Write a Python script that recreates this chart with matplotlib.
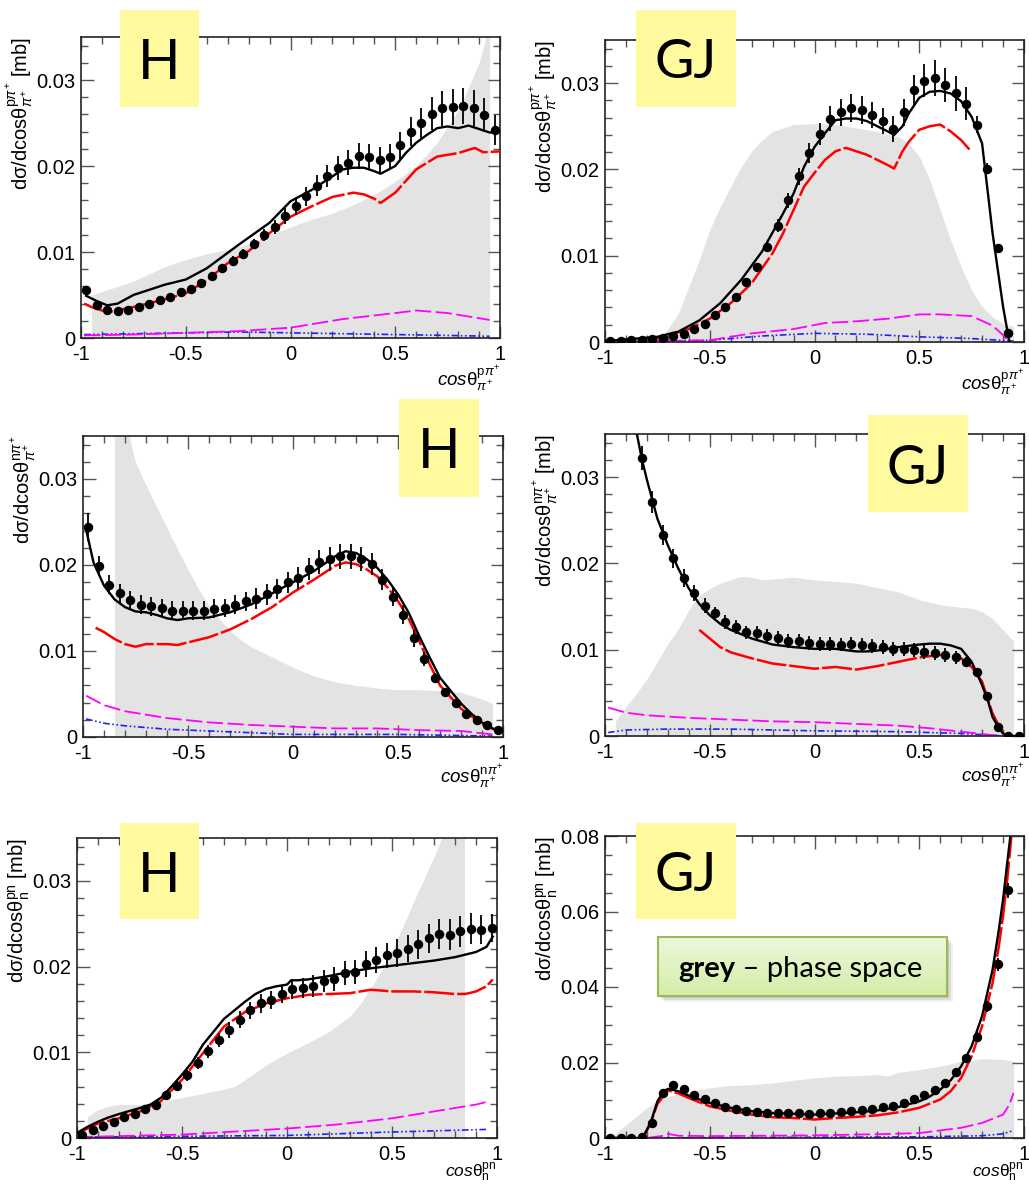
import numpy as np
import matplotlib
matplotlib.use("Agg")
import matplotlib.pyplot as plt
from matplotlib.patches import Rectangle
from matplotlib.ticker import MultipleLocator, FixedLocator, FixedFormatter

plt.rcParams['font.family'] = ['Liberation Sans', 'DejaVu Sans']
plt.rcParams['mathtext.fontset'] = 'custom'
plt.rcParams['mathtext.rm'] = 'Liberation Sans'
plt.rcParams['mathtext.it'] = 'Liberation Sans:italic'
plt.rcParams['mathtext.bf'] = 'Liberation Sans:bold'

W, H = 1029, 1185

# 40 bins of width 0.05 in cos(theta)
BIN_CENTERS = np.round(np.arange(-0.975, 1.0, 0.05), 3)

X_TICKS = [-1, -0.5, 0, 0.5, 1]
X_TICK_LABELS = ['-1', '-0.5', '0', '0.5', '1']
Y_TICKS_SMALL = [0, 0.01, 0.02, 0.03]
Y_TICK_LABELS_SMALL = ['0', '0.01', '0.02', '0.03']
Y_TICKS_BIG = [0, 0.02, 0.04, 0.06, 0.08]
Y_TICK_LABELS_BIG = ['0', '0.02', '0.04', '0.06', '0.08']

# ---------------- p pi+ system, Helicity frame ----------------
h_ppi_data = [0.0056, 0.0038, 0.0032, 0.0031, 0.0033, 0.0036, 0.0040, 0.0044, 0.0048, 0.0053,
              0.0057, 0.0064, 0.0072, 0.0081, 0.0090, 0.0098, 0.0109, 0.0120, 0.0129, 0.0142,
              0.0153, 0.0165, 0.0177, 0.0188, 0.0198, 0.0204, 0.0212, 0.0210, 0.0207, 0.0211,
              0.0224, 0.0240, 0.0250, 0.0261, 0.0267, 0.0269, 0.0270, 0.0267, 0.0259, 0.0242]
h_ppi_err = [0.0003, 0.0003, 0.0003, 0.0003, 0.0003, 0.0003, 0.0003, 0.0003, 0.0003, 0.0003,
             0.0004, 0.0004, 0.0004, 0.0005, 0.0005, 0.0005, 0.0006, 0.0007, 0.0008, 0.0009,
             0.0010, 0.0011, 0.0012, 0.0013, 0.0014, 0.0015, 0.0015, 0.0015, 0.0015, 0.0015,
             0.0016, 0.0017, 0.0018, 0.0019, 0.0020, 0.0021, 0.0021, 0.0021, 0.0020, 0.0017]
h_ppi_full_x = [-0.975, -0.925, -0.875, -0.825, -0.75, -0.6, -0.5, -0.4, -0.25, -0.1, 0, 0.1, 0.2,
                0.25, 0.3, 0.35, 0.4, 0.43, 0.5, 0.55, 0.6, 0.65, 0.7, 0.75, 0.8, 0.85, 0.9, 0.95, 0.975]
h_ppi_full_y = [0.0049, 0.0043, 0.0038, 0.0040, 0.0050, 0.0062, 0.0068, 0.0081, 0.0108, 0.0134,
                0.0159, 0.0172, 0.0188, 0.0196, 0.0198, 0.0198, 0.0194, 0.0191, 0.0200, 0.0215,
                0.0227, 0.0236, 0.0244, 0.0246, 0.0244, 0.0247, 0.0243, 0.0239, 0.0239]
h_ppi_red_x = [-0.985, -0.95, -0.9, -0.85, -0.75, -0.6, -0.5, -0.4, -0.3, -0.2, -0.1, 0, 0.1, 0.2,
               0.3, 0.35, 0.4, 0.43, 0.5, 0.6, 0.7, 0.8, 0.88, 0.92, 1.0]
h_ppi_red_y = [0.0040, 0.0036, 0.0032, 0.0031, 0.0036, 0.0045, 0.0052, 0.0067, 0.0087, 0.0101,
               0.0122, 0.0141, 0.0153, 0.0164, 0.0169, 0.0167, 0.0162, 0.0157, 0.0169, 0.0196,
               0.0211, 0.0215, 0.0221, 0.0216, 0.0217]
h_ppi_mag_x = [-0.985, -0.75, -0.5, -0.25, 0, 0.25, 0.5, 0.6, 0.75, 0.95]
h_ppi_mag_y = [0.0003, 0.0004, 0.0006, 0.0008, 0.0012, 0.0022, 0.0029, 0.0032, 0.0029, 0.0021]
h_ppi_blue_x = [-0.985, -0.5, -0.25, 0, 0.25, 0.5, 0.75, 0.95]
h_ppi_blue_y = [0.0004, 0.0006, 0.0007, 0.0006, 0.0005, 0.0004, 0.0003, 0.0002]
h_ppi_ps_x = [-0.95, -0.95, -0.85, -0.75, -0.6, -0.5, -0.4, -0.3, -0.2, -0.1, 0, 0.1, 0.2, 0.3,
              0.4, 0.5, 0.6, 0.7, 0.8, 0.85, 0.9, 0.95, 0.95]
h_ppi_ps_y = [0, 0.0050, 0.0058, 0.0066, 0.0083, 0.0091, 0.0098, 0.0103, 0.0109, 0.0120, 0.0129,
              0.0138, 0.0145, 0.0155, 0.0167, 0.0182, 0.0200, 0.0227, 0.0265, 0.0291, 0.0320,
              0.0365, 0]

# ---------------- p pi+ system, Gottfried-Jackson frame ----------------
gj_ppi_data = [0.0001, 0.0001, 0.0002, 0.0002, 0.0004, 0.0005, 0.0007, 0.0009, 0.0015, 0.0021,
               0.0031, 0.0040, 0.0052, 0.0069, 0.0087, 0.0110, 0.0135, 0.0164, 0.0192, 0.0219,
               0.0241, 0.0259, 0.0266, 0.0271, 0.0269, 0.0263, 0.0256, 0.0247, 0.0266, 0.0292,
               0.0303, 0.0306, 0.0298, 0.0288, 0.0276, 0.0252, 0.0201, 0.0109, 0.0010]
gj_ppi_err = [0.0002, 0.0002, 0.0002, 0.0002, 0.0002, 0.0002, 0.0002, 0.0002, 0.0002, 0.0003,
              0.0003, 0.0003, 0.0004, 0.0004, 0.0005, 0.0006, 0.0008, 0.0009, 0.0010, 0.0012,
              0.0013, 0.0015, 0.0016, 0.0016, 0.0016, 0.0015, 0.0015, 0.0015, 0.0016, 0.0017,
              0.0019, 0.0021, 0.0020, 0.0020, 0.0019, 0.0010, 0.0006, 0.0004, 0.0002]
gj_ppi_full_x = [-1.0, -0.75, -0.65, -0.55, -0.45, -0.35, -0.25, -0.15, -0.1, -0.05, 0, 0.05, 0.1,
                 0.15, 0.2, 0.25, 0.3, 0.35, 0.38, 0.42, 0.45, 0.5, 0.55, 0.6, 0.65, 0.7, 0.75,
                 0.8, 0.85, 0.9, 0.93]
gj_ppi_full_y = [0.0001, 0.0006, 0.0012, 0.0025, 0.0045, 0.0072, 0.0105, 0.0149, 0.0172, 0.0203,
                 0.0226, 0.0242, 0.0257, 0.0259, 0.0259, 0.0256, 0.0250, 0.0244, 0.0240, 0.0250,
                 0.0265, 0.0283, 0.0290, 0.0291, 0.0288, 0.0279, 0.0261, 0.0230, 0.0126, 0.0041, 0.0]
gj_ppi_red_x = [-1.0, -0.75, -0.6, -0.5, -0.4, -0.3, -0.2, -0.15, -0.1, -0.05, 0, 0.05, 0.1, 0.15,
                0.2, 0.25, 0.3, 0.35, 0.38, 0.42, 0.45, 0.5, 0.55, 0.6, 0.65, 0.7, 0.74]
gj_ppi_red_y = [0.0, 0.0004, 0.0015, 0.0027, 0.0045, 0.0068, 0.0103, 0.0126, 0.0153, 0.0180, 0.0196,
                0.0211, 0.0221, 0.0225, 0.0221, 0.0217, 0.0211, 0.0205, 0.0201, 0.0221, 0.0232,
                0.0246, 0.0250, 0.0252, 0.0244, 0.0234, 0.0223]
gj_ppi_mag_x = [-1.0, -0.5, -0.3, -0.1, 0.05, 0.2, 0.35, 0.5, 0.6, 0.75, 0.85, 0.9, 0.93]
gj_ppi_mag_y = [0.0, 0.0002, 0.0010, 0.0015, 0.0022, 0.0024, 0.0027, 0.0032, 0.0032, 0.0030,
                0.0019, 0.0008, 0.0]
gj_ppi_blue_x = [-1.0, -0.5, -0.25, 0, 0.25, 0.5, 0.75, 0.95]
gj_ppi_blue_y = [0.0, 0.0002, 0.0007, 0.0010, 0.0009, 0.0006, 0.0004, 0.0001]
gj_ppi_ps_x = [-0.95, -0.8, -0.73, -0.7, -0.65, -0.6, -0.55, -0.5, -0.45, -0.4, -0.35, -0.3,
               -0.25, -0.2, -0.1, 0, 0.1, 0.2, 0.3, 0.4, 0.45, 0.5, 0.55, 0.6, 0.65, 0.7, 0.75,
               0.8, 0.85, 0.9, 0.95, 0.95]
gj_ppi_ps_y = [0, 0.0002, 0.0006, 0.0015, 0.0033, 0.0064, 0.0095, 0.0130, 0.0157, 0.0180, 0.0203,
               0.0221, 0.0234, 0.0244, 0.0252, 0.0253, 0.0252, 0.0248, 0.0244, 0.0238, 0.0230,
               0.0215, 0.0188, 0.0153, 0.0118, 0.0087, 0.0060, 0.0041, 0.0029, 0.0021, 0.0018, 0]

# ---------------- n pi+ system, Helicity frame ----------------
h_npi_data = [0.0244, 0.0199, 0.0177, 0.0167, 0.0159, 0.0154, 0.0152, 0.0150, 0.0147, 0.0147,
              0.0147, 0.0147, 0.0149, 0.0150, 0.0154, 0.0158, 0.0161, 0.0166, 0.0172, 0.0180,
              0.0185, 0.0195, 0.0203, 0.0207, 0.0210, 0.0210, 0.0207, 0.0201, 0.0183, 0.0163,
              0.0142, 0.0115, 0.0091, 0.0069, 0.0052, 0.0039, 0.0027, 0.0020, 0.0014, 0.0008]
h_npi_err = [0.0016, 0.0012, 0.0011, 0.0011, 0.0011, 0.0011, 0.0011, 0.0011, 0.0011, 0.0011,
             0.0011, 0.0011, 0.0011, 0.0011, 0.0011, 0.0011, 0.0012, 0.0012, 0.0012, 0.0012,
             0.0013, 0.0013, 0.0014, 0.0014, 0.0015, 0.0015, 0.0014, 0.0013, 0.0012, 0.0011,
             0.0011, 0.0010, 0.0008, 0.0006, 0.0005, 0.0004, 0.0004, 0.0003, 0.0003, 0.0003]
h_npi_full_x = [-0.985, -0.95, -0.9, -0.85, -0.8, -0.75, -0.7, -0.65, -0.6, -0.55, -0.5, -0.4,
                -0.3, -0.2, -0.1, 0, 0.1, 0.2, 0.25, 0.3, 0.35, 0.4, 0.45, 0.5, 0.55, 0.6, 0.65,
                0.7, 0.75, 0.8, 0.85, 0.9, 0.95, 0.975]
h_npi_full_y = [0.0241, 0.0203, 0.0176, 0.0160, 0.0151, 0.0146, 0.0145, 0.0142, 0.0138, 0.0136,
                0.0138, 0.0139, 0.0145, 0.0154, 0.0167, 0.0180, 0.0193, 0.0210, 0.0216, 0.0214,
                0.0207, 0.0197, 0.0183, 0.0166, 0.0145, 0.0118, 0.0093, 0.0069, 0.0054, 0.0039,
                0.0027, 0.0017, 0.0010, 0.0008]
h_npi_red_x = [-0.94, -0.9, -0.85, -0.8, -0.75, -0.7, -0.6, -0.55, -0.5, -0.4, -0.3, -0.2, -0.1,
               0, 0.1, 0.2, 0.25, 0.3, 0.35, 0.4, 0.45, 0.5, 0.55, 0.6, 0.65, 0.7, 0.8, 0.9, 0.975]
h_npi_red_y = [0.0127, 0.0122, 0.0114, 0.0108, 0.0105, 0.0108, 0.0108, 0.0107, 0.0110, 0.0116,
               0.0125, 0.0137, 0.0151, 0.0168, 0.0183, 0.0199, 0.0203, 0.0201, 0.0195, 0.0187,
               0.0174, 0.0158, 0.0138, 0.0112, 0.0085, 0.0060, 0.0033, 0.0015, 0.0007]
h_npi_mag_x = [-0.985, -0.9, -0.8, -0.6, -0.4, -0.2, 0, 0.2, 0.4, 0.6, 0.8, 0.95]
h_npi_mag_y = [0.0048, 0.0037, 0.0030, 0.0022, 0.0017, 0.0014, 0.0012, 0.0010, 0.0010, 0.0008,
               0.0007, 0.0003]
h_npi_blue_x = [-0.985, -0.9, -0.8, -0.6, -0.4, -0.2, 0, 0.5, 0.95]
h_npi_blue_y = [0.0021, 0.0016, 0.0013, 0.0009, 0.0007, 0.0005, 0.0003, 0.0003, 0.0001]
h_npi_ps_x = [-0.85, -0.85, -0.78, -0.75, -0.7, -0.65, -0.6, -0.55, -0.5, -0.45, -0.4, -0.35,
              -0.3, -0.25, -0.2, -0.1, 0, 0.1, 0.2, 0.3, 0.4, 0.5, 0.6, 0.7, 0.8, 0.85, 0.9,
              0.95, 0.95]
h_npi_ps_y = [0, 0.0400, 0.0350, 0.0319, 0.0293, 0.0268, 0.0243, 0.0218, 0.0195, 0.0172, 0.0153,
              0.0137, 0.0124, 0.0113, 0.0105, 0.0093, 0.0081, 0.0071, 0.0064, 0.0060, 0.0057,
              0.0055, 0.0055, 0.0054, 0.0052, 0.0048, 0.0044, 0.0039, 0]

# ---------------- n pi+ system, Gottfried-Jackson frame ----------------
gj_npi_data = [0.0322, 0.0271, 0.0233, 0.0206, 0.0183, 0.0166, 0.0151, 0.0142, 0.0132, 0.0126,
               0.0120, 0.0119, 0.0116, 0.0114, 0.0110, 0.0110, 0.0108, 0.0107, 0.0107, 0.0106,
               0.0107, 0.0106, 0.0104, 0.0103, 0.0101, 0.0101, 0.0100, 0.0097, 0.0096, 0.0094,
               0.0091, 0.0086, 0.0074, 0.0046, 0.0010, 0.0, 0.0]
gj_npi_err = [0.0014, 0.0013, 0.0012, 0.0011, 0.0010, 0.0009, 0.0009, 0.0008, 0.0008, 0.0008,
              0.0008, 0.0008, 0.0008, 0.0008, 0.0008, 0.0008, 0.0008, 0.0008, 0.0008, 0.0008,
              0.0008, 0.0008, 0.0008, 0.0008, 0.0008, 0.0008, 0.0008, 0.0008, 0.0008, 0.0008,
              0.0007, 0.0006, 0.0005, 0.0003, 0.0002, 0.0001, 0.0001]
gj_npi_full_x = [-0.86, -0.825, -0.8, -0.75, -0.7, -0.65, -0.6, -0.55, -0.5, -0.45, -0.4, -0.3,
                 -0.2, -0.1, 0, 0.1, 0.2, 0.25, 0.3, 0.4, 0.5, 0.55, 0.6, 0.65, 0.7, 0.75, 0.8,
                 0.83, 0.85, 0.88, 0.9, 0.92, 0.975]
gj_npi_full_y = [0.0365, 0.0322, 0.0297, 0.0252, 0.0221, 0.0194, 0.0171, 0.0153, 0.0140, 0.0130,
                 0.0123, 0.0113, 0.0106, 0.0103, 0.0101, 0.0101, 0.0098, 0.0098, 0.0099, 0.0103,
                 0.0106, 0.0107, 0.0107, 0.0105, 0.0101, 0.0086, 0.0059, 0.0039, 0.0022, 0.0009,
                 0.0003, 0.0, 0.0]
gj_npi_red_x = [-0.55, -0.5, -0.45, -0.4, -0.3, -0.2, -0.1, 0, 0.1, 0.2, 0.3, 0.4, 0.5, 0.6, 0.65,
                0.7, 0.75, 0.8, 0.85, 0.9]
gj_npi_red_y = [0.0123, 0.0113, 0.0103, 0.0097, 0.0090, 0.0084, 0.0081, 0.0078, 0.0080, 0.0077,
                0.0081, 0.0086, 0.0091, 0.0094, 0.0093, 0.0090, 0.0080, 0.0063, 0.0026, 0.0003]
gj_npi_mag_x = [-0.985, -0.9, -0.8, -0.6, -0.4, -0.2, 0, 0.2, 0.4, 0.55, 0.7, 0.85, 0.9]
gj_npi_mag_y = [0.0033, 0.0027, 0.0024, 0.0021, 0.0019, 0.0017, 0.0016, 0.0014, 0.0012, 0.0009,
                0.0005, 0.0001, 0.0]
gj_npi_blue_x = [-0.985, -0.9, -0.7, -0.4, -0.2, 0, 0.4, 0.7, 0.9]
gj_npi_blue_y = [0.0004, 0.0007, 0.0008, 0.0008, 0.0007, 0.0006, 0.0005, 0.0003, 0.0]
gj_npi_ps_x = [-0.95, -0.95, -0.9, -0.85, -0.8, -0.75, -0.7, -0.65, -0.6, -0.55, -0.5, -0.45,
               -0.4, -0.35, -0.3, -0.25, -0.2, -0.1, 0, 0.1, 0.2, 0.3, 0.4, 0.5, 0.6, 0.7, 0.75,
               0.8, 0.85, 0.9, 0.95, 0.95]
gj_npi_ps_y = [0, 0.0017, 0.0034, 0.0049, 0.0066, 0.0086, 0.0107, 0.0124, 0.0146, 0.0163, 0.0171,
               0.0177, 0.0181, 0.0185, 0.0184, 0.0181, 0.0182, 0.0184, 0.0181, 0.0179, 0.0177,
               0.0172, 0.0167, 0.0158, 0.0152, 0.0149, 0.0148, 0.0144, 0.0136, 0.0123, 0.0110, 0]

# ---------------- p n system, Helicity frame ----------------
h_pn_data = [0.0004, 0.0009, 0.0014, 0.0019, 0.0024, 0.0028, 0.0034, 0.0039, 0.0050, 0.0061,
             0.0073, 0.0087, 0.0101, 0.0114, 0.0126, 0.0138, 0.0149, 0.0157, 0.0161, 0.0168,
             0.0174, 0.0175, 0.0177, 0.0183, 0.0186, 0.0193, 0.0194, 0.0203, 0.0208, 0.0213,
             0.0216, 0.0221, 0.0226, 0.0233, 0.0238, 0.0237, 0.0241, 0.0244, 0.0243, 0.0245]
h_pn_err = [0.0003, 0.0003, 0.0003, 0.0003, 0.0003, 0.0003, 0.0003, 0.0003, 0.0005, 0.0006,
            0.0006, 0.0007, 0.0008, 0.0008, 0.0009, 0.0010, 0.0010, 0.0011, 0.0011, 0.0011,
            0.0012, 0.0012, 0.0013, 0.0013, 0.0014, 0.0014, 0.0014, 0.0015, 0.0015, 0.0015,
            0.0016, 0.0016, 0.0017, 0.0017, 0.0018, 0.0018, 0.0018, 0.0018, 0.0017, 0.0016]
h_pn_full_x = [-1.0, -0.95, -0.9, -0.85, -0.8, -0.7, -0.65, -0.6, -0.55, -0.5, -0.45, -0.4, -0.35,
               -0.3, -0.25, -0.2, -0.15, -0.1, -0.05, 0, 0.02, 0.05, 0.1, 0.2, 0.3, 0.4, 0.5,
               0.6, 0.7, 0.8, 0.9, 0.95, 0.98]
h_pn_full_y = [0.0006, 0.0013, 0.0019, 0.0024, 0.0028, 0.0035, 0.0039, 0.0047, 0.0060, 0.0074,
               0.0089, 0.0109, 0.0124, 0.0139, 0.0149, 0.0159, 0.0168, 0.0174, 0.0177, 0.0179,
               0.0184, 0.0184, 0.0185, 0.0189, 0.0194, 0.0198, 0.0201, 0.0204, 0.0207, 0.0211,
               0.0217, 0.0223, 0.0235]
h_pn_red_x = [-1.0, -0.9, -0.8, -0.7, -0.6, -0.5, -0.4, -0.3, -0.2, -0.1, 0, 0.1, 0.2, 0.3, 0.4,
              0.5, 0.6, 0.7, 0.8, 0.85, 0.9, 0.95, 0.98]
h_pn_red_y = [0.0005, 0.0017, 0.0023, 0.0031, 0.0043, 0.0068, 0.0099, 0.0130, 0.0147, 0.0157,
              0.0163, 0.0167, 0.0168, 0.0169, 0.0173, 0.0171, 0.0171, 0.0170, 0.0168, 0.0168,
              0.0171, 0.0177, 0.0185]
h_pn_mag_x = [-1.0, -0.5, 0, 0.25, 0.5, 0.7, 0.8, 0.9, 0.95]
h_pn_mag_y = [0.0001, 0.0004, 0.0011, 0.0016, 0.0023, 0.0031, 0.0035, 0.0039, 0.0042]
h_pn_blue_x = [-1.0, 0, 0.5, 0.8, 0.95]
h_pn_blue_y = [0.0001, 0.0003, 0.0007, 0.0009, 0.0010]
h_pn_ps_x = [-0.95, -0.95, -0.9, -0.85, -0.8, -0.7, -0.6, -0.5, -0.4, -0.3, -0.25, -0.2, -0.1, 0,
             0.1, 0.2, 0.3, 0.35, 0.4, 0.45, 0.5, 0.55, 0.6, 0.65, 0.7, 0.75, 0.845, 0.845]
h_pn_ps_y = [0, 0.0025, 0.0033, 0.0037, 0.0039, 0.0039, 0.0043, 0.0047, 0.0052, 0.0057, 0.0060,
             0.0068, 0.0085, 0.0099, 0.0111, 0.0124, 0.0142, 0.0157, 0.0175, 0.0196, 0.0219,
             0.0246, 0.0274, 0.0301, 0.0328, 0.0358, 0.0420, 0]

# ---------------- p n system, Gottfried-Jackson frame ----------------
gj_pn_data = [0.0, 0.0, 0.0, 0.0002, 0.0040, 0.0118, 0.0140, 0.0130, 0.0115, 0.0103,
              0.0093, 0.0081, 0.0077, 0.0071, 0.0068, 0.0066, 0.0066, 0.0065, 0.0065, 0.0064,
              0.0065, 0.0066, 0.0068, 0.0071, 0.0073, 0.0077, 0.0082, 0.0086, 0.0093, 0.0102,
              0.0115, 0.0128, 0.0146, 0.0174, 0.0212, 0.0268, 0.0349, 0.0460, 0.0656]
gj_pn_err = [0.0003, 0.0003, 0.0003, 0.0003, 0.0005, 0.0005, 0.0005, 0.0005, 0.0005, 0.0005,
             0.0005, 0.0005, 0.0005, 0.0005, 0.0005, 0.0005, 0.0005, 0.0005, 0.0005, 0.0005,
             0.0005, 0.0005, 0.0005, 0.0005, 0.0005, 0.0005, 0.0005, 0.0005, 0.0005, 0.0006,
             0.0006, 0.0007, 0.0007, 0.0008, 0.0010, 0.0012, 0.0015, 0.0018, 0.0020]
gj_pn_full_x = [-1.0, -0.82, -0.8, -0.78, -0.75, -0.72, -0.7, -0.65, -0.6, -0.5, -0.4, -0.3, -0.2,
                -0.1, 0, 0.1, 0.2, 0.3, 0.4, 0.5, 0.55, 0.6, 0.65, 0.7, 0.75, 0.8, 0.85, 0.88,
                0.9, 0.92, 0.935, 0.945]
gj_pn_full_y = [0.0, 0.0, 0.0022, 0.0044, 0.0097, 0.0124, 0.0130, 0.0124, 0.0112, 0.0093, 0.0080,
                0.0071, 0.0066, 0.0064, 0.0062, 0.0065, 0.0068, 0.0073, 0.0082, 0.0097, 0.0110,
                0.0128, 0.0153, 0.0190, 0.0243, 0.0323, 0.0446, 0.0552, 0.0632, 0.0729, 0.0800,
                0.0860]
gj_pn_red_x = [-1.0, -0.82, -0.8, -0.78, -0.75, -0.7, -0.65, -0.6, -0.5, -0.4, -0.3, -0.2, -0.1,
               0, 0.1, 0.2, 0.3, 0.4, 0.5, 0.6, 0.65, 0.7, 0.75, 0.8, 0.85, 0.88, 0.9, 0.92,
               0.94, 0.95]
gj_pn_red_y = [0.0, 0.0, 0.0020, 0.0042, 0.0090, 0.0126, 0.0118, 0.0106, 0.0084, 0.0072, 0.0062,
               0.0055, 0.0053, 0.0049, 0.0053, 0.0056, 0.0060, 0.0068, 0.0080, 0.0102, 0.0124,
               0.0159, 0.0217, 0.0296, 0.0411, 0.0508, 0.0588, 0.0685, 0.0800, 0.0860]
gj_pn_mag_x = [-0.8, -0.72, -0.7, -0.65, -0.5, 0, 0.3, 0.5, 0.7, 0.8, 0.9, 0.93, 0.95]
gj_pn_mag_y = [0.0, 0.0006, 0.0011, 0.0006, 0.0005, 0.0007, 0.0010, 0.0013, 0.0027, 0.0040,
               0.0062, 0.0088, 0.0119]
gj_pn_blue_x = [-0.8, 0, 0.5, 0.8, 0.9, 0.95]
gj_pn_blue_y = [0.0, 0.0002, 0.0003, 0.0006, 0.0011, 0.0020]
gj_pn_ps_x = [-0.97, -0.95, -0.9, -0.85, -0.8, -0.75, -0.7, -0.6, -0.5, -0.4, -0.3, -0.2, -0.1, 0,
              0.1, 0.2, 0.3, 0.35, 0.4, 0.5, 0.6, 0.7, 0.8, 0.9, 0.95, 0.95]
gj_pn_ps_y = [0, 0.0013, 0.0035, 0.0057, 0.0080, 0.0097, 0.0110, 0.0124, 0.0133, 0.0139, 0.0141,
              0.0146, 0.0153, 0.0159, 0.0164, 0.0165, 0.0168, 0.0164, 0.0174, 0.0181, 0.0190,
              0.0203, 0.0210, 0.0208, 0.0203, 0]

YLAB_PPI = r'd$\mathrm{\sigma}$/dcos$\mathrm{\theta}^{\mathrm{p}\pi^{+}}_{\pi^{+}}$ [mb]'
YLAB_NPI_SHORT = r'd$\mathrm{\sigma}$/dcos$\mathrm{\theta}^{\mathrm{n}\pi^{+}}_{\pi^{+}}$'
YLAB_NPI = r'd$\mathrm{\sigma}$/dcos$\mathrm{\theta}^{\mathrm{n}\pi^{+}}_{\pi^{+}}$ [mb]'
YLAB_PN = r'd$\mathrm{\sigma}$/dcos$\mathrm{\theta}^{\mathrm{pn}}_{\mathrm{n}}$ [mb]'
XLAB_PPI = r'$\mathit{cos}\mathrm{\theta}^{\mathrm{p}\pi^{+}}_{\pi^{+}}$'
XLAB_NPI = r'$\mathit{cos}\mathrm{\theta}^{\mathrm{n}\pi^{+}}_{\pi^{+}}$'
XLAB_PN = r'$\mathit{cos}\mathrm{\theta}^{\mathrm{pn}}_{\mathrm{n}}$'

# panel layout in pixels: (left, top, right, bottom); xlab_y / xlab_fs place the x title
panels = [
    dict(box=(81, 37, 500, 338), first_bin=0, data=h_ppi_data, err=h_ppi_err,
         full=(h_ppi_full_x, h_ppi_full_y), red=(h_ppi_red_x, h_ppi_red_y),
         mag=(h_ppi_mag_x, h_ppi_mag_y), blue=(h_ppi_blue_x, h_ppi_blue_y),
         ps=(h_ppi_ps_x, h_ppi_ps_y), ylab=YLAB_PPI, xlab=XLAB_PPI, big=False,
         xlab_y=-0.085, xlab_fs=13.5),
    dict(box=(605, 40, 1024, 342), first_bin=0, data=gj_ppi_data, err=gj_ppi_err,
         full=(gj_ppi_full_x, gj_ppi_full_y), red=(gj_ppi_red_x, gj_ppi_red_y),
         mag=(gj_ppi_mag_x, gj_ppi_mag_y), blue=(gj_ppi_blue_x, gj_ppi_blue_y),
         ps=(gj_ppi_ps_x, gj_ppi_ps_y), ylab=YLAB_PPI, xlab=XLAB_PPI, big=False,
         xlab_y=-0.085, xlab_fs=13.5),
    dict(box=(83, 436, 503, 737), first_bin=0, data=h_npi_data, err=h_npi_err,
         full=(h_npi_full_x, h_npi_full_y), red=(h_npi_red_x, h_npi_red_y),
         mag=(h_npi_mag_x, h_npi_mag_y), blue=(h_npi_blue_x, h_npi_blue_y),
         ps=(h_npi_ps_x, h_npi_ps_y), ylab=YLAB_NPI_SHORT, xlab=XLAB_NPI, big=False,
         xlab_y=-0.085, xlab_fs=13.5),
    dict(box=(605, 434, 1024, 736), first_bin=3, data=gj_npi_data, err=gj_npi_err,
         full=(gj_npi_full_x, gj_npi_full_y), red=(gj_npi_red_x, gj_npi_red_y),
         mag=(gj_npi_mag_x, gj_npi_mag_y), blue=(gj_npi_blue_x, gj_npi_blue_y),
         ps=(gj_npi_ps_x, gj_npi_ps_y), ylab=YLAB_NPI, xlab=XLAB_NPI, big=False,
         xlab_y=-0.085, xlab_fs=13.5),
    dict(box=(77, 838, 497, 1138), first_bin=0, data=h_pn_data, err=h_pn_err,
         full=(h_pn_full_x, h_pn_full_y), red=(h_pn_red_x, h_pn_red_y),
         mag=(h_pn_mag_x, h_pn_mag_y), blue=(h_pn_blue_x, h_pn_blue_y),
         ps=(h_pn_ps_x, h_pn_ps_y), ylab=YLAB_PN, xlab=XLAB_PN, big=False,
         xlab_y=-0.077, xlab_fs=12.5),
    dict(box=(605, 836, 1024, 1138), first_bin=0, data=gj_pn_data, err=gj_pn_err,
         full=(gj_pn_full_x, gj_pn_full_y), red=(gj_pn_red_x, gj_pn_red_y),
         mag=(gj_pn_mag_x, gj_pn_mag_y), blue=(gj_pn_blue_x, gj_pn_blue_y),
         ps=(gj_pn_ps_x, gj_pn_ps_y), ylab=YLAB_PN, xlab=XLAB_PN, big=True,
         xlab_y=-0.077, xlab_fs=12.5),
]

# frame tags (text, left, top, right, bottom in pixels)
tags = [
    ('H', 120, 10, 199, 107), ('GJ', 636, 10, 736, 107),
    ('H', 399, 399, 479, 497), ('GJ', 868, 415, 968, 512),
    ('H', 120, 823, 199, 919), ('GJ', 636, 823, 736, 919),
]

fig = plt.figure(figsize=(W / 100, H / 100), dpi=100)
fig.patch.set_facecolor('white')


def px_rect(l, t, r, b):
    return [l / W, 1 - b / H, (r - l) / W, (b - t) / H]


for p in panels:
    ax = fig.add_axes(px_rect(*p['box']))
    ymax = 0.08 if p['big'] else 0.035
    ax.set_xlim(-1, 1)
    ax.set_ylim(0, ymax)

    ax.fill_between(p['ps'][0], p['ps'][1], 0, color='#e3e3e3', lw=0, zorder=1)
    ax.plot(p['blue'][0], p['blue'][1], color='#1f1fff', lw=1.2,
            ls=(0, (4, 1.5, 1, 1.5, 1, 1.5)), zorder=2)
    ax.plot(p['mag'][0], p['mag'][1], color='#ff00ff', lw=1.3, ls=(0, (9, 2.5)), zorder=2)
    ax.plot(p['red'][0], p['red'][1], color='#ff0000', lw=1.8, ls=(0, (12, 1.2)), zorder=3)
    ax.plot(p['full'][0], p['full'][1], color='black', lw=1.7, zorder=4)

    xc = BIN_CENTERS[p['first_bin']:p['first_bin'] + len(p['data'])]
    ax.errorbar(xc, p['data'], yerr=p['err'], fmt='o', color='black', ms=5.8,
                elinewidth=1.3, capsize=0, zorder=5)

    ax.xaxis.set_major_locator(FixedLocator(X_TICKS))
    ax.xaxis.set_major_formatter(FixedFormatter(X_TICK_LABELS))
    ax.xaxis.set_minor_locator(MultipleLocator(0.1))
    if p['big']:
        ax.yaxis.set_major_locator(FixedLocator(Y_TICKS_BIG))
        ax.yaxis.set_major_formatter(FixedFormatter(Y_TICK_LABELS_BIG))
        ax.yaxis.set_minor_locator(MultipleLocator(0.005))
    else:
        ax.yaxis.set_major_locator(FixedLocator(Y_TICKS_SMALL))
        ax.yaxis.set_major_formatter(FixedFormatter(Y_TICK_LABELS_SMALL))
        ax.yaxis.set_minor_locator(MultipleLocator(0.002))

    ax.tick_params(which='both', direction='in', top=True, right=True,
                   color='#555555', width=1.0, labelsize=14.5)
    ax.tick_params(which='major', length=9)
    ax.tick_params(which='minor', length=5)
    ax.tick_params(axis='y', pad=4)
    ax.tick_params(axis='x', pad=5)
    for s in ax.spines.values():
        s.set_color('#222222')
        s.set_linewidth(1.2)

    ax.set_ylabel(p['ylab'], fontsize=14.5, loc='top')
    ax.yaxis.set_label_coords(-0.108, 1.0)
    ax.set_xlabel(p['xlab'], fontsize=p['xlab_fs'], loc='right')
    ax.xaxis.set_label_coords(1.0, p['xlab_y'])

# yellow frame tags
for text, l, t, r, b in tags:
    fig.add_artist(Rectangle((l / W, 1 - b / H), (r - l) / W, (b - t) / H,
                             transform=fig.transFigure, facecolor='#fffa9e',
                             edgecolor='none', zorder=5))
    fig.text((l + r) / 2 / W, 1 - (t + b) / 2 / H, text, ha='center', va='center_baseline',
             fontsize=40 if text == 'H' else 39, family='Lato', color='black', zorder=6)

# green note box with soft shadow
bl, bt, br, bb = 658, 937, 947, 996
for k, a in enumerate([0.10, 0.08, 0.06]):
    off = 2 + 2 * k
    fig.add_artist(Rectangle(((bl + off) / W, 1 - (bb + off) / H), (br - bl) / W, (bb - bt) / H,
                             transform=fig.transFigure, facecolor='black', alpha=a,
                             edgecolor='none', zorder=6))
gax = fig.add_axes(px_rect(bl, bt, br, bb), zorder=7)
grad = np.linspace(0, 1, 64)[:, None]
top_c = np.array([0.93, 0.97, 0.86])
bot_c = np.array([0.83, 0.93, 0.66])
img = top_c[None, None, :] * (1 - grad[:, :, None]) + bot_c[None, None, :] * grad[:, :, None]
gax.imshow(img, aspect='auto', extent=(0, 1, 0, 1), origin='upper')
gax.set_xlim(0, 1)
gax.set_ylim(0, 1)
gax.set_xticks([])
gax.set_yticks([])
for s in gax.spines.values():
    s.set_color('#9bbb59')
    s.set_linewidth(1.5)
t1 = gax.text(0.07, 0.45, 'grey', fontsize=21, family='Lato', fontweight='bold',
              va='center', ha='left')
gax.annotate(' \u2013 phase space', xycoords=t1, xy=(1, 0), va='bottom', ha='left',
             fontsize=21, family='Lato')

fig.savefig('out.png', dpi=100, facecolor='white')
